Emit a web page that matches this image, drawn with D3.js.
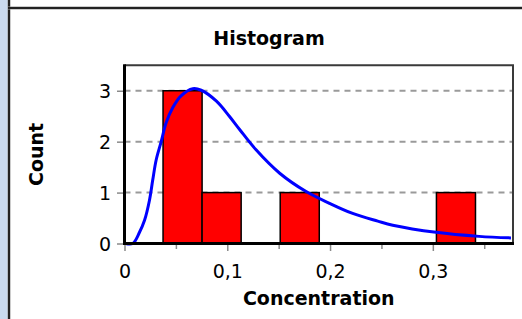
<!DOCTYPE html>
<html>
<head>
<meta charset="utf-8">
<script src="https://cdn.jsdelivr.net/npm/d3@7"></script>
<style>
  html, body { margin: 0; padding: 0; background: #fff; }
  svg { display: block; }
  text { font-family: "DejaVu Sans", Verdana, sans-serif; fill: #000; }
</style>
</head>
<body>
<svg id="chart" width="522" height="319"></svg>
<script>
// ---- data ----
const binEdges = [0.0375, 0.0755, 0.1135, 0.1515, 0.1895, 0.2275, 0.2655, 0.3035, 0.3415];
const binCounts = [3, 1, 0, 1, 0, 0, 0, 1];
const curveX = [0.001, 0.008, 0.0146, 0.0195, 0.0243, 0.0275, 0.0308, 0.0357, 0.0405, 0.047, 0.055, 0.0665, 0.0746, 0.0892, 0.102, 0.112, 0.128, 0.151, 0.1767, 0.1994, 0.222, 0.2464, 0.261, 0.303, 0.345, 0.376];
const curveY = [0, 0, 0.22, 0.455, 0.85, 1.25, 1.64, 2.0, 2.37, 2.67, 2.9, 3.04, 3.01, 2.8, 2.5, 2.24, 1.84, 1.38, 1.02, 0.79, 0.59, 0.44, 0.36, 0.22, 0.14, 0.11];
const xTicks = [0, 0.1, 0.2, 0.3];
const xMinorTicks = [0.05, 0.15, 0.25, 0.35];
const yTicks = [0, 1, 2, 3];
const title = "Histogram";
const xTitle = "Concentration";
const yTitle = "Count";

// ---- layout ----
const svg = d3.select("#chart");
const L = 124.5, R = 513, T = 65.3, B = 243.5;
const x = d3.scaleLinear().domain([0, 0.378]).range([L, R]);
const y = d3.scaleLinear().domain([0, 3.5]).range([B, T]);
const fmt = d3.formatLocale({decimal: ",", thousands: ".", grouping: [3], currency: ["", ""]}).format("~g");

// window chrome
svg.append("rect").attr("x", 0).attr("y", 0).attr("width", 8).attr("height", 319).attr("fill", "#c9daef");
svg.append("rect").attr("x", 7.5).attr("y", 0).attr("width", 3).attr("height", 319).attr("fill", "#9a9a9a");
svg.append("rect").attr("x", 8).attr("y", 0).attr("width", 2).attr("height", 319).attr("fill", "#222");
svg.append("rect").attr("x", 8).attr("y", 6.5).attr("width", 514).attr("height", 3).attr("fill", "#9a9a9a");
svg.append("rect").attr("x", 8).attr("y", 7).attr("width", 514).attr("height", 2).attr("fill", "#222");

// title
svg.append("text").attr("x", 269).attr("y", 45).attr("text-anchor", "middle")
  .style("font-weight", "bold").style("font-size", "19px").text(title);

// gridlines
svg.append("g").selectAll("line").data(yTicks.filter(d => d > 0)).join("line")
  .attr("x1", L).attr("x2", R).attr("y1", d => y(d)).attr("y2", d => y(d))
  .attr("stroke", "#9a9a9a").attr("stroke-width", 2).attr("stroke-dasharray", "6,5");

// bars
const bins = binCounts.map((c, i) => ({x0: binEdges[i], x1: binEdges[i + 1], c})).filter(d => d.c > 0);
svg.append("g").selectAll("rect").data(bins).join("rect")
  .attr("x", d => x(d.x0)).attr("y", d => y(d.c))
  .attr("width", d => x(d.x1) - x(d.x0)).attr("height", d => y(0) - y(d.c))
  .attr("fill", "#ff0000").attr("stroke", "#000").attr("stroke-width", 1.5);

// curve
const pts = curveX.map((v, i) => [v, curveY[i]]);
svg.append("path").datum(pts)
  .attr("d", d3.line().x(d => x(d[0])).y(d => y(d[1])).curve(d3.curveCatmullRom.alpha(0.5)))
  .attr("fill", "none").attr("stroke", "#0000ff").attr("stroke-width", 3);

// frame top/right
svg.append("path").attr("d", `M${L},${T}H${R}V${B}`).attr("fill", "none")
  .attr("stroke", "#3a3a3a").attr("stroke-width", 2);

// axes
const xAxis = svg.append("g").attr("transform", `translate(0,${B + 1.5})`)
  .call(d3.axisBottom(x).tickValues(xTicks).tickSize(6).tickPadding(14).tickFormat(fmt));
const xMinor = svg.append("g").attr("transform", `translate(0,${B + 1.5})`)
  .call(d3.axisBottom(x).tickValues(xMinorTicks).tickSize(4).tickFormat(""));
const yAxis = svg.append("g").attr("transform", `translate(${L - 1.5},0)`)
  .call(d3.axisLeft(y).tickValues(yTicks).tickSize(6).tickPadding(6).tickFormat(fmt));
[xAxis, xMinor, yAxis].forEach(g => {
  g.select(".domain").remove();
  g.selectAll(".tick line").attr("stroke", "#8a8a8a").attr("stroke-width", 1.5);
  g.selectAll(".tick text").style("font-size", "19px").style("font-family", "'DejaVu Sans', sans-serif").attr("fill", "#000");
});
yAxis.selectAll(".tick text").attr("dy", "0.36em");

// thick axis lines
svg.append("line").attr("x1", L).attr("x2", L).attr("y1", T - 1).attr("y2", B + 1.5)
  .attr("stroke", "#000").attr("stroke-width", 3);
svg.append("line").attr("x1", L - 1.5).attr("x2", R + 1).attr("y1", B).attr("y2", B)
  .attr("stroke", "#000").attr("stroke-width", 3);

// axis titles
svg.append("text").attr("x", (L + R) / 2).attr("y", 305).attr("text-anchor", "middle")
  .style("font-weight", "bold").style("font-size", "19px").text(xTitle);
svg.append("text").attr("transform", `translate(43,${(T + B) / 2}) rotate(-90)`)
  .attr("text-anchor", "middle").style("font-weight", "bold").style("font-size", "19px").text(yTitle);
</script>
</body>
</html>
